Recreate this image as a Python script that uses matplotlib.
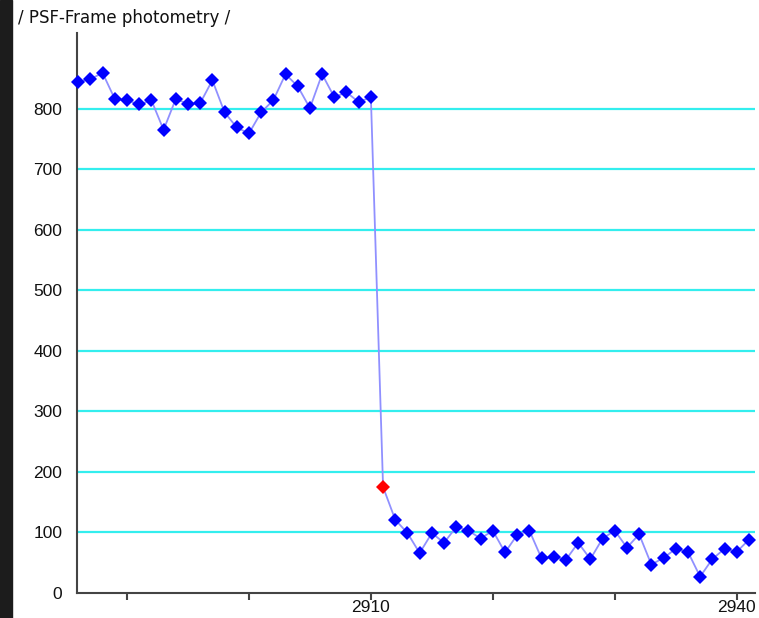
import matplotlib
matplotlib.use("Agg")
import matplotlib.pyplot as plt
from matplotlib.patches import Rectangle

# frame numbers and PSF photometry values
frames = list(range(2886, 2942))
flux = [844, 849, 859, 816, 814, 807, 814, 765, 816, 808,
        809, 847, 794, 769, 759, 794, 814, 857, 837, 801,
        857, 819, 827, 811, 819, 175, 121, 99, 66, 99,
        83, 109, 103, 90, 103, 67, 96, 103, 57, 60,
        55, 83, 56, 90, 103, 75, 97, 47, 58, 73,
        68, 27, 56, 73, 68, 88]
flagged = [2911]
grid_vals = [100, 200, 300, 400, 500, 600, 700, 800]
xticks = [2890, 2900, 2910, 2920, 2930, 2940]
xtick_labels = ["", "", "2910", "", "", "2940"]

W, H = 759, 618
fig = plt.figure(figsize=(W / 100, H / 100), dpi=100)
fig.patch.set_facecolor("white")
fig.patches.append(Rectangle((0, 0), 12 / W, 1, transform=fig.transFigure,
                             color="#1c1c1c", zorder=0))

ax = fig.add_axes([77 / W, (H - 593) / H, (755 - 77) / W, (593 - 33) / H])
ax.set_xlim(2885.9, 2941.5)
ax.set_ylim(0, 925)

fam = ["Liberation Sans", "DejaVu Sans"]

for g in grid_vals:
    ax.axhline(g, color="#33eeee", lw=1.6, zorder=1)

ax.plot(frames, flux, color="#9090ff", lw=1.3, zorder=2)
blue_x = [f for f in frames if f not in flagged]
blue_y = [v for f, v in zip(frames, flux) if f not in flagged]
red_y = [v for f, v in zip(frames, flux) if f in flagged]
ax.plot(blue_x, blue_y, "D", color="#0000ff", ms=7, mew=0, zorder=3, clip_on=False)
ax.plot(flagged, red_y, "D", color="#ff0000", ms=7, mew=0, zorder=3)

for s in ["top", "right"]:
    ax.spines[s].set_visible(False)
for s in ["left", "bottom"]:
    ax.spines[s].set_color("#444444")
    ax.spines[s].set_linewidth(1.5)

ax.set_yticks([0] + grid_vals)
ax.set_yticklabels([str(v) for v in [0] + grid_vals], family=fam, fontsize=12.5)
ax.tick_params(axis="y", length=0, pad=10.5, colors="#111111")
ax.set_xticks(xticks)
ax.set_xticklabels(xtick_labels, family=fam, fontsize=12.5)
ax.tick_params(axis="x", length=5, width=1.5, color="#444444", pad=0, labelcolor="#111111")

fig.text(18 / W, 1 - 18 / H, "/ PSF-Frame photometry /", family="DejaVu Sans",
         fontsize=12, va="center", ha="left", color="#111111")

fig.savefig("out.png", dpi=100)
